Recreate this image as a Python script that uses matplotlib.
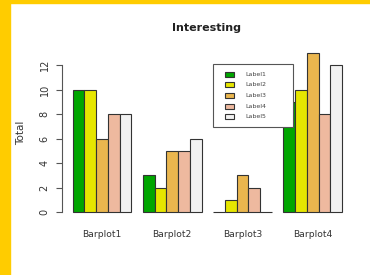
import matplotlib
matplotlib.use("Agg")
import matplotlib.pyplot as plt
from matplotlib.patches import Rectangle
import numpy as np

groups = ["Barplot1", "Barplot2", "Barplot3", "Barplot4"]
series = ["Label1", "Label2", "Label3", "Label4", "Label5"]
values = {
    "Label1": [10, 3, 0, 9],
    "Label2": [10, 2, 1, 10],
    "Label3": [6, 5, 3, 13],
    "Label4": [8, 5, 2, 8],
    "Label5": [8, 6, 0, 12],
}
colors = ["#00A600", "#E6E600", "#EAB64E", "#EEB99F", "#F2F2F2"]
yticks = [0, 2, 4, 6, 8, 10, 12]

W, H = 370, 275
fig = plt.figure(figsize=(W / 100, H / 100), dpi=100)
fig.patch.set_facecolor("white")


def fx(x):
    return x / W


def fy(y):
    return 1 - y / H


# yellow frame
fig.patches.append(Rectangle((0, 0), 10 / W, 1, transform=fig.transFigure, color="#FFCC00", zorder=0))
fig.patches.append(Rectangle((0, 1 - 3 / H), 1, 3 / H, transform=fig.transFigure, color="#FFCC00", zorder=0))

ax = fig.add_axes([62 / W, 1 - 218.4 / H, (352.8 - 62) / W, (218.4 - 46.4) / H])
ax.set_facecolor("none")

n = len(series)
for gi, g in enumerate(groups):
    start = 1 + gi * (n + 1)
    for si, s in enumerate(series):
        ax.bar(start + si, values[s][gi], width=1, align="edge", color=colors[si],
               edgecolor="#333333", linewidth=0.8)

ax.set_xlim(0.08, 24.92)
ax.set_ylim(-0.52, 13.52)
for sp in ["top", "right", "bottom"]:
    ax.spines[sp].set_visible(False)
ax.spines["left"].set_bounds(0, 12)
ax.spines["left"].set_color("#555555")
ax.spines["left"].set_linewidth(0.8)
ax.set_yticks(yticks)
ax.set_yticklabels([str(v) for v in yticks], rotation=90, va="center", fontsize=7, color="#333333")
ax.tick_params(axis="y", length=4, width=0.8, color="#555555", pad=5)

centers = [1 + gi * (n + 1) + n / 2 for gi in range(len(groups))]
ax.set_xticks(centers)
ax.set_xticklabels(groups, fontsize=6.6, color="#333333")
ax.tick_params(axis="x", length=0, pad=8)

ax.set_ylabel("Total", fontsize=7.5, color="#333333", labelpad=10)
fig.text(207 / W, 1 - 28 / H, "Interesting", ha="center", va="center", fontsize=8, fontweight="bold", color="#222222")

# legend drawn as a boxed key (R-style)
fig.patches.append(Rectangle((fx(213), fy(127)), (293 - 213) / W, (127 - 64) / H,
                             transform=fig.transFigure, facecolor="white", edgecolor="#555555",
                             linewidth=0.8, zorder=5))
for i, (lab, c) in enumerate(zip(series, colors)):
    yc = 74 + i * 10.7
    fig.patches.append(Rectangle((fx(225), fy(yc + 2.5)), 9 / W, 5 / H, transform=fig.transFigure,
                                 facecolor=c, edgecolor="#333333", linewidth=0.8, zorder=6))
    fig.text(fx(245), fy(yc), lab, fontsize=4.5, color="#444444", va="center", ha="left", zorder=6)

fig.savefig("out.png", dpi=100, facecolor="white")
